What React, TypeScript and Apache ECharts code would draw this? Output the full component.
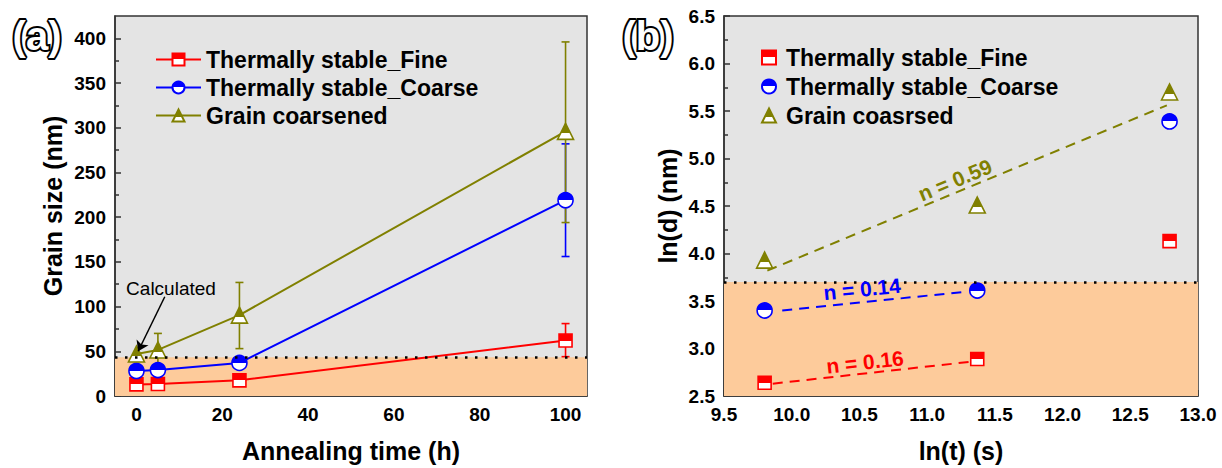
import React, { useEffect, useRef } from 'react';
import * as echarts from 'echarts';

// ---------- Panel (a) data ----------
const annealHours = [0, 5, 24, 100];
const fineSize = [13, 13.5, 17.5, 62];
const coarseSize = [28, 29, 37, 219];
const coarsenedSize = [47, 51.5, 90.5, 296];
// [x, low, high]
const fineErr = [[100, 44, 81]];
const coarseErr = [[100, 156, 282]];
const coarsenedErr = [[5, 34, 70], [24, 53, 127], [100, 194, 396]];
const calculatedSize = 43.4;
const calcArrowFrom = [6.6, 111];
const calcArrowTo = [0.4, 50];

const xTicksA = [0, 20, 40, 60, 80, 100];
const xMinorA = [10, 30, 50, 70, 90];
const yTicksA = [0, 50, 100, 150, 200, 250, 300, 350, 400];
const yMinorA = [25, 75, 125, 175, 225, 275, 325, 375];

const namesA = ['Thermally stable_Fine', 'Thermally stable_Coarse', 'Grain coarsened'];

// ---------- Panel (b) data ----------
const lnTime = [9.8, 11.37, 12.79];
const lnFine = [2.64, 2.89, 4.13];
const lnCoarse = [3.4, 3.61, 5.39];
const lnCoarsened = [3.93, 4.51, 5.7];
const fitFine = [[9.86, 2.63], [11.32, 2.86]];
const fitCoarse = [[9.93, 3.4], [11.3, 3.6]];
const fitCoarsened = [[9.82, 3.82], [12.77, 5.56]];
const lnCalculated = 3.7;

const namesB = ['Thermally stable_Fine', 'Thermally stable_Coarse', 'Grain coasrsed'];
const keysB = ['b_fine', 'b_coarse', 'b_coarsened'];
const fitLabels = ['n = 0.16', 'n = 0.14', 'n = 0.59'];

const RED = '#ff0000';
const BLUE = '#0000ff';
const OLIVE = '#808000';
const FONT = 'Arial, "Liberation Sans", sans-serif';

const pts = (xs: number[], ys: number[]) => xs.map((x, i) => [x, ys[i]]);

const half = (c: string, off: number) => ({
  type: 'linear',
  x: 0,
  y: 0,
  x2: 0,
  y2: 1,
  colorStops: [
    { offset: 0, color: c },
    { offset: off, color: c },
    { offset: off, color: '#ffffff' },
    { offset: 1, color: '#ffffff' },
  ],
});

const errSeries = (name: string, data: number[][], color: string) => ({
  type: 'custom',
  name,
  xAxisIndex: 0,
  yAxisIndex: 0,
  z: 2,
  silent: true,
  data,
  encode: { x: 0, y: [1, 2] },
  renderItem: (params: any, api: any) => {
    const x = api.value(0);
    const lo = api.value(1);
    const hi = api.value(2);
    const p1 = api.coord([x, hi]);
    const p2 = api.coord([x, lo]);
    const w = 4;
    const style = { stroke: color, lineWidth: 1.6 };
    return {
      type: 'group',
      children: [
        { type: 'line', shape: { x1: p1[0], y1: p1[1], x2: p2[0], y2: p2[1] }, style },
        { type: 'line', shape: { x1: p1[0] - w, y1: p1[1], x2: p1[0] + w, y2: p1[1] }, style },
        { type: 'line', shape: { x1: p2[0] - w, y1: p2[1], x2: p2[0] + w, y2: p2[1] }, style },
      ],
    };
  },
});

const axisLineStyle = { show: true, onZero: false, lineStyle: { color: '#333', width: 1.5 } };
const hiddenLine = { show: false, onZero: false };
const labelStyle = { color: '#000', fontSize: 19, fontWeight: 'bold' as const, fontFamily: FONT };
const nameStyle = { color: '#000', fontSize: 25, fontWeight: 'bold' as const, fontFamily: FONT };
const tagStyle = { fontSize: 40, fontWeight: 'bold' as const, fontFamily: FONT, fill: '#fff', stroke: '#000', lineWidth: 4, align: 'center' as const, verticalAlign: 'middle' as const };

export default function App() {
  const ref = useRef<HTMLDivElement>(null);

  useEffect(() => {
    document.body.style.margin = '0';
    if (!ref.current) return;
    const chart = echarts.init(ref.current, undefined, { renderer: 'svg' });

    const gridA = { left: 115, top: 16, width: 472, height: 382 };
    const gridB = { left: 724, top: 16, width: 474, height: 382 };

    const option: any = {
      animation: false,
      backgroundColor: '#ffffff',
      grid: [
        { ...gridA, show: true, backgroundColor: '#e4e4e4', borderColor: '#333', borderWidth: 1.5, containLabel: false },
        { ...gridB, show: true, backgroundColor: '#e4e4e4', borderColor: '#333', borderWidth: 1.5, containLabel: false },
      ],
      xAxis: [
        {
          type: 'value',
          gridIndex: 0,
          position: 'bottom',
          min: -5,
          max: 105,
          name: 'Annealing time (h)',
          nameLocation: 'middle',
          nameGap: 42,
          nameTextStyle: nameStyle,
          axisLine: axisLineStyle,
          axisTick: { show: true, inside: true, length: 6, lineStyle: { color: '#333', width: 1.5 }, customValues: xTicksA },
          axisLabel: { ...labelStyle, margin: 9, customValues: xTicksA },
          splitLine: { show: false },
        },
        {
          type: 'value',
          gridIndex: 0,
          position: 'bottom',
          min: -5,
          max: 105,
          axisLine: hiddenLine,
          axisTick: { show: true, inside: true, length: 4, lineStyle: { color: '#333', width: 1.5 }, customValues: xMinorA },
          axisLabel: { show: false },
          splitLine: { show: false },
        },
        {
          type: 'value',
          gridIndex: 1,
          position: 'bottom',
          min: 9.5,
          max: 13.0,
          interval: 0.5,
          name: 'ln(t) (s)',
          nameLocation: 'middle',
          nameGap: 42,
          nameTextStyle: nameStyle,
          axisLine: axisLineStyle,
          axisTick: { show: true, inside: true, length: 6, lineStyle: { color: '#333', width: 1.5 } },
          minorTick: { show: true, splitNumber: 2, length: 4, lineStyle: { color: '#333', width: 1.5 } },
          axisLabel: { ...labelStyle, margin: 9, formatter: (v: number) => v.toFixed(1) },
          splitLine: { show: false },
          minorSplitLine: { show: false },
        },
      ],
      yAxis: [
        {
          type: 'value',
          gridIndex: 0,
          position: 'left',
          min: 0,
          max: 425,
          name: 'Grain size (nm)',
          nameLocation: 'middle',
          nameGap: 50,
          nameTextStyle: nameStyle,
          axisLine: axisLineStyle,
          axisTick: { show: true, inside: true, length: 6, lineStyle: { color: '#333', width: 1.5 }, customValues: yTicksA },
          axisLabel: { ...labelStyle, margin: 9, customValues: yTicksA },
          splitLine: { show: false },
        },
        {
          type: 'value',
          gridIndex: 0,
          position: 'left',
          min: 0,
          max: 425,
          axisLine: hiddenLine,
          axisTick: { show: true, inside: true, length: 4, lineStyle: { color: '#333', width: 1.5 }, customValues: yMinorA },
          axisLabel: { show: false },
          splitLine: { show: false },
        },
        {
          type: 'value',
          gridIndex: 1,
          position: 'left',
          min: 2.5,
          max: 6.5,
          interval: 0.5,
          name: 'ln(d) (nm)',
          nameLocation: 'middle',
          nameGap: 44,
          nameTextStyle: nameStyle,
          axisLine: axisLineStyle,
          axisTick: { show: true, inside: true, length: 6, lineStyle: { color: '#333', width: 1.5 } },
          minorTick: { show: true, splitNumber: 2, length: 4, lineStyle: { color: '#333', width: 1.5 } },
          axisLabel: { ...labelStyle, margin: 9, formatter: (v: number) => v.toFixed(1) },
          splitLine: { show: false },
          minorSplitLine: { show: false },
        },
      ],
      legend: [
        {
          data: namesA,
          orient: 'vertical',
          left: 150,
          top: 43,
          itemWidth: 45,
          itemHeight: 15,
          itemGap: 5,
          selectedMode: false,
          textStyle: { color: '#000', fontSize: 23, fontWeight: 'bold', fontFamily: FONT },
        },
        {
          data: keysB,
          orient: 'vertical',
          left: 756,
          top: 41,
          itemWidth: 14,
          itemHeight: 14,
          itemGap: 6,
          selectedMode: false,
          formatter: (n: string) => namesB[keysB.indexOf(n)],
          textStyle: { color: '#000', fontSize: 23, fontWeight: 'bold', fontFamily: FONT, padding: [0, 0, 0, 5] },
        },
      ],
      series: [
        // ---- panel (a) ----
        errSeries('errFine', fineErr, RED),
        errSeries('errCoarse', coarseErr, BLUE),
        errSeries('errCoarsened', coarsenedErr, OLIVE),
        {
          type: 'line',
          name: namesA[0],
          xAxisIndex: 0,
          yAxisIndex: 0,
          z: 3,
          data: pts(annealHours, fineSize),
          symbol: 'rect',
          symbolSize: 13,
          lineStyle: { color: RED, width: 2 },
          itemStyle: { color: half(RED, 0.5), borderColor: RED, borderWidth: 1.6 },
          markArea: {
            silent: true,
            itemStyle: { color: '#fdcb9b', opacity: 1 },
            data: [[{ yAxis: 0 }, { yAxis: calculatedSize }]],
          },
          markLine: {
            silent: true,
            symbol: ['none', 'none'],
            label: { show: false },
            lineStyle: { color: '#000', width: 2.5, type: [2.5, 7.5] },
            data: [{ yAxis: calculatedSize }],
          },
        },
        {
          type: 'line',
          name: namesA[1],
          xAxisIndex: 0,
          yAxisIndex: 0,
          z: 3,
          data: pts(annealHours, coarseSize),
          symbol: 'circle',
          symbolSize: 15,
          lineStyle: { color: BLUE, width: 2 },
          itemStyle: { color: half(BLUE, 0.5), borderColor: BLUE, borderWidth: 1.6 },
        },
        {
          type: 'line',
          name: namesA[2],
          xAxisIndex: 0,
          yAxisIndex: 0,
          z: 3,
          data: pts(annealHours, coarsenedSize),
          symbol: 'triangle',
          symbolSize: 16,
          lineStyle: { color: OLIVE, width: 2 },
          itemStyle: { color: half(OLIVE, 0.62), borderColor: OLIVE, borderWidth: 1.6 },
          markLine: {
            silent: true,
            label: { show: false },
            symbolSize: 10,
            lineStyle: { color: '#000', width: 1.5, type: 'solid' },
            data: [[{ coord: calcArrowFrom, symbol: 'none' }, { coord: calcArrowTo, symbol: 'arrow' }]],
          },
        },
        // ---- panel (b) ----
        {
          type: 'line',
          name: 'fitFine',
          xAxisIndex: 2,
          yAxisIndex: 2,
          z: 2,
          silent: true,
          showSymbol: false,
          symbol: 'none',
          data: fitFine,
          lineStyle: { color: RED, width: 2, type: [10, 7] },
          markArea: {
            silent: true,
            itemStyle: { color: '#fdcb9b', opacity: 1 },
            data: [[{ yAxis: 2.5 }, { yAxis: lnCalculated }]],
          },
          markLine: {
            silent: true,
            symbol: ['none', 'none'],
            label: { show: false },
            lineStyle: { color: '#000', width: 2.5, type: [2.5, 7.5] },
            data: [{ yAxis: lnCalculated }],
          },
        },
        {
          type: 'line',
          name: 'fitCoarse',
          xAxisIndex: 2,
          yAxisIndex: 2,
          z: 2,
          silent: true,
          showSymbol: false,
          symbol: 'none',
          data: fitCoarse,
          lineStyle: { color: BLUE, width: 2, type: [10, 7] },
        },
        {
          type: 'line',
          name: 'fitCoarsened',
          xAxisIndex: 2,
          yAxisIndex: 2,
          z: 2,
          silent: true,
          showSymbol: false,
          symbol: 'none',
          data: fitCoarsened,
          lineStyle: { color: OLIVE, width: 2, type: [10, 7] },
        },
        {
          type: 'scatter',
          name: keysB[0],
          xAxisIndex: 2,
          yAxisIndex: 2,
          z: 3,
          data: pts(lnTime, lnFine),
          symbol: 'rect',
          symbolSize: 13,
          itemStyle: { color: half(RED, 0.5), borderColor: RED, borderWidth: 1.6, opacity: 1 },
        },
        {
          type: 'scatter',
          name: keysB[1],
          xAxisIndex: 2,
          yAxisIndex: 2,
          z: 3,
          data: pts(lnTime, lnCoarse),
          symbol: 'circle',
          symbolSize: 15,
          itemStyle: { color: half(BLUE, 0.5), borderColor: BLUE, borderWidth: 1.6, opacity: 1 },
        },
        {
          type: 'scatter',
          name: keysB[2],
          xAxisIndex: 2,
          yAxisIndex: 2,
          z: 3,
          data: pts(lnTime, lnCoarsened),
          symbol: 'triangle',
          symbolSize: 16,
          itemStyle: { color: half(OLIVE, 0.62), borderColor: OLIVE, borderWidth: 1.6, opacity: 1 },
        },
      ],
      graphic: [
        { type: 'text', x: 37, y: 36, style: { ...tagStyle, text: '(a)' } },
        { type: 'text', x: 648, y: 36, style: { ...tagStyle, text: '(b)' } },
        {
          type: 'text',
          x: 171,
          y: 288,
          z: 10,
          style: { text: 'Calculated', fontSize: 19, fontFamily: FONT, fill: '#000', align: 'center', verticalAlign: 'middle' },
        },
        {
          type: 'text',
          x: 865,
          y: 362,
          rotation: 0.112,
          z: 10,
          style: { text: fitLabels[0], fontSize: 21, fontWeight: 'bold', fontFamily: FONT, fill: RED, align: 'center', verticalAlign: 'middle' },
        },
        {
          type: 'text',
          x: 862,
          y: 289,
          rotation: 0.098,
          z: 10,
          style: { text: fitLabels[1], fontSize: 21, fontWeight: 'bold', fontFamily: FONT, fill: BLUE, align: 'center', verticalAlign: 'middle' },
        },
        {
          type: 'text',
          x: 955,
          y: 180,
          rotation: 0.394,
          z: 10,
          style: { text: fitLabels[2], fontSize: 21, fontWeight: 'bold', fontFamily: FONT, fill: OLIVE, align: 'center', verticalAlign: 'middle' },
        },
      ],
    };

    chart.setOption(option);
    return () => {
      chart.dispose();
    };
  }, []);

  return <div ref={ref} style={{ width: 1222, height: 468 }} />;
}
